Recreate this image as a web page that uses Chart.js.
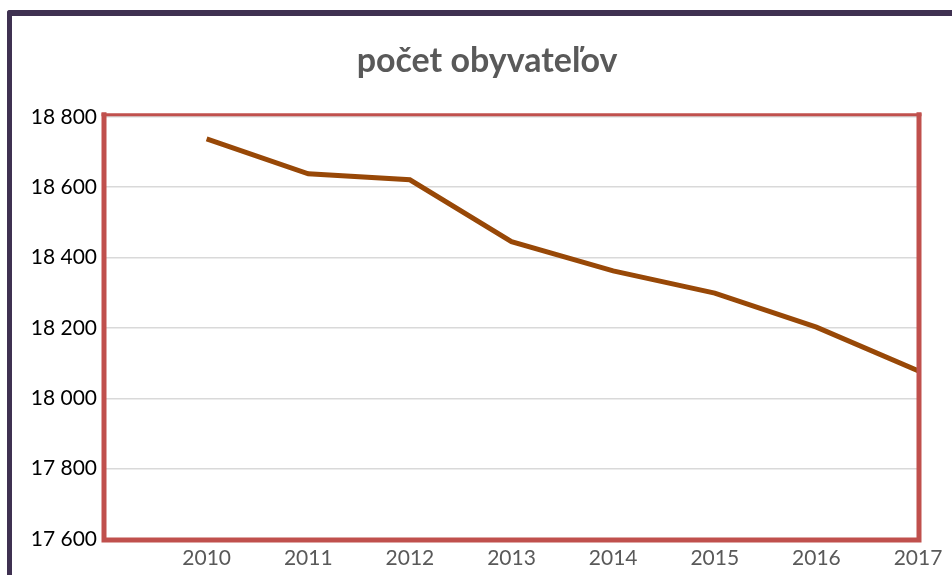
<!DOCTYPE html>
<html>
<head>
<meta charset="utf-8">
<script src="https://cdn.jsdelivr.net/npm/chart.js@4.4.0/dist/chart.umd.min.js"></script>
<style>
    html, body { margin: 0; padding: 0; background: #fff; overflow: hidden; }
    .frame {
        position: absolute;
        left: 7px;
        top: 10px;
        width: 1000px;
        height: 700px;
        border-left: 5px solid #3f3151;
        border-top: 6px solid #3f3151;
        border-top-left-radius: 3px;
    }
    .chart_container {
        position: absolute;
        left: 0;
        top: 0;
        width: 952px;
        height: 575px;
    }
</style>
</head>
<body>
<div class="frame"></div>
<div class="chart_container"><canvas id="chart"></canvas></div>
<script>
const title = 'počet obyvateľov';
const years = [2010, 2011, 2012, 2013, 2014, 2015, 2016, 2017];
const population = [18737, 18638, 18621, 18445, 18362, 18299, 18202, 18078];
const yTicks = [17600, 17800, 18000, 18200, 18400, 18600, 18800];

const RED = '#c0504d';

// thousands with a space, like "18 800"
function formatNum(v) {
    return String(v).replace(/\B(?=(\d{3})+(?!\d))/g, ' ');
}

const plotBorder = {
    id: 'plotBorder',
    afterLayout(chart) {
        // the original chart is wider than the shot, so its title sits a bit right of centre
        if (chart.titleBlock) {
            chart.titleBlock.left += 13;
            chart.titleBlock.right += 13;
        }
    },
    afterDraw(chart) {
        const { ctx, chartArea: a } = chart;
        ctx.save();
        ctx.strokeStyle = RED;
        ctx.lineCap = 'square';
        // top - thinner
        ctx.lineWidth = 3;
        ctx.beginPath();
        ctx.moveTo(a.left - 2, a.top - 2);
        ctx.lineTo(a.right + 2, a.top - 2);
        ctx.stroke();
        // left, right, bottom - thick
        ctx.lineWidth = 5;
        ctx.beginPath();
        ctx.moveTo(a.left - 1, a.top - 2);
        ctx.lineTo(a.left - 1, a.bottom + 1);
        ctx.lineTo(a.right + 1, a.bottom + 1);
        ctx.lineTo(a.right + 1, a.top - 2);
        ctx.stroke();
        ctx.restore();
    }
};

Chart.defaults.font.family = 'Lato, "Open Sans", sans-serif';

const ctx = document.getElementById('chart').getContext('2d');
new Chart(ctx, {
    type: 'line',
    data: {
        datasets: [{
            label: title,
            data: years.map((y, i) => ({ x: y, y: population[i] })),
            borderColor: '#984807',
            borderWidth: 5,
            pointRadius: 0,
            tension: 0,
            fill: false
        }]
    },
    options: {
        responsive: true,
        maintainAspectRatio: false,
        animation: false,
        layout: {
            padding: { left: 30, right: 34, top: 0, bottom: 0 }
        },
        plugins: {
            legend: { display: false },
            tooltip: { enabled: false },
            title: {
                display: true,
                text: title,
                color: '#595959',
                font: { size: 34, weight: 'bold' },
                padding: { top: 41, bottom: 35 }
            }
        },
        scales: {
            x: {
                type: 'linear',
                min: 2009,
                max: 2017,
                grid: { display: false },
                border: { display: false },
                afterFit: scale => { scale.height = 36; },
                ticks: {
                    stepSize: 1,
                    padding: -1,
                    color: '#595959',
                    font: { size: 21 },
                    maxRotation: 0,
                    callback: function (value) {
                        return value === 2009 ? '' : String(value);
                    }
                }
            },
            y: {
                min: 17600,
                max: 18800,
                afterFit: scale => { scale.width = 75; },
                afterBuildTicks: scale => { scale.ticks = yTicks.map(v => ({ value: v })); },
                grid: {
                    color: '#d9d9d9',
                    lineWidth: 1.5,
                    drawTicks: false
                },
                border: { display: false },
                ticks: {
                    padding: 8,
                    color: '#000000',
                    font: { size: 21 },
                    callback: function (value) {
                        return formatNum(value);
                    }
                }
            }
        }
    },
    plugins: [plotBorder]
});
</script>
</body>
</html>
